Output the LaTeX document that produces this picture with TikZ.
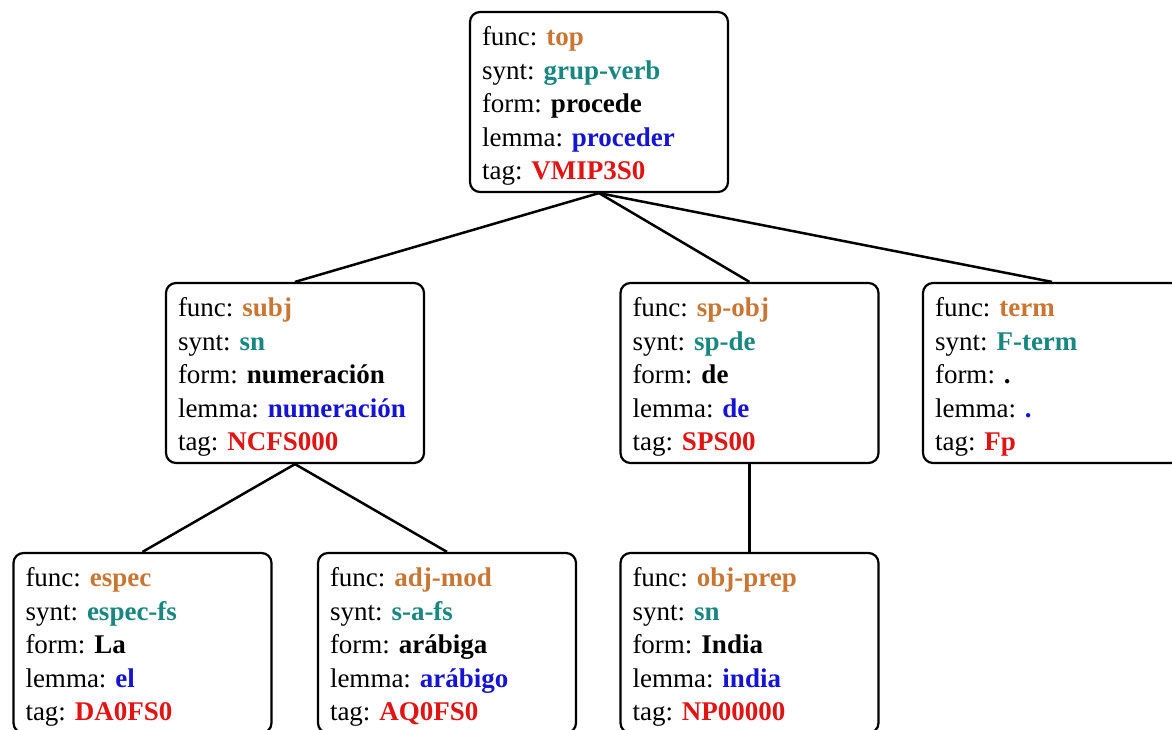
\documentclass[tikz,border=0pt]{standalone}
\usepackage{fontspec}
\setmainfont{Liberation Serif}
\definecolor{funcc}{RGB}{200,118,52}
\definecolor{syntc}{RGB}{25,135,128}
\definecolor{lemmac}{RGB}{20,20,210}
\definecolor{tagc}{RGB}{225,20,20}
% five feature lines of a tree node; the strut gives the first line some headroom
\newcommand{\feat}[5]{%
  \rule{0pt}{27pt}func: \textbf{\color{funcc}#1}\\
  synt: \textbf{\color{syntc}#2}\\
  form: \textbf{#3}\\
  lemma: \textbf{\color{lemmac}#4}\\
  tag: \textbf{\color{tagc}#5}}
\begin{document}
\frenchspacing
\begin{tikzpicture}[x=1pt,y=-1pt,
  fbox/.style={draw, line width=2.2pt, rounded corners=10pt,
    minimum width=258pt, minimum height=180pt,
    text width=234pt, inner xsep=12pt, inner ysep=0pt, align=left,
    font=\fontsize{27}{33.5}\selectfont},
  edge/.style={line width=2.5pt}]
\clip (0,0) rectangle (1172,730);
\node[fbox] (top) at (599,102) {\feat{top}{grup-verb}{procede}{proceder}{VMIP3S0}};
\node[fbox] (subj) at (295,373) {\feat{subj}{sn}{numeración}{numeración}{NCFS000}};
\node[fbox] (spobj) at (749.5,373) {\feat{sp-obj}{sp-de}{de}{de}{SPS00}};
\node[fbox] (term) at (1052,373) {\feat{term}{F-term}{.}{.}{Fp}};
\node[fbox] (espec) at (142.5,643) {\feat{espec}{espec-fs}{La}{el}{DA0FS0}};
\node[fbox] (adjmod) at (447,643) {\feat{adj-mod}{s-a-fs}{arábiga}{arábigo}{AQ0FS0}};
\node[fbox] (objprep) at (749.5,643) {\feat{obj-prep}{sn}{India}{india}{NP00000}};
\draw[edge] (top.south) -- (subj.north);
\draw[edge] (top.south) -- (spobj.north);
\draw[edge] (top.south) -- (term.north);
\draw[edge] (subj.south) -- (espec.north);
\draw[edge] (subj.south) -- (adjmod.north);
\draw[edge] (spobj.south) -- (objprep.north);
\end{tikzpicture}
\end{document}
